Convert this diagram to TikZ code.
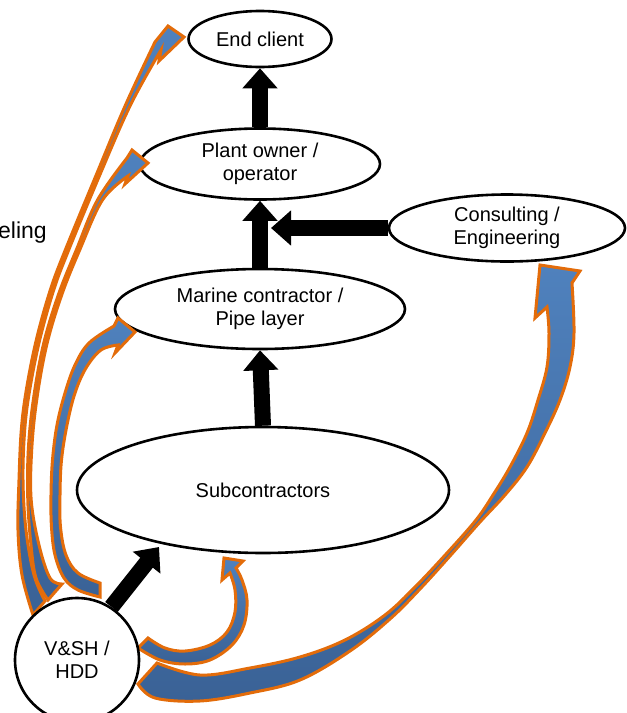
\documentclass[tikz,border=0pt]{standalone}
\usepackage{fontspec}
\setmainfont{Liberation Sans}
\usetikzlibrary{arrows.meta,shapes.geometric}
\definecolor{orng}{HTML}{E36C0A}
\definecolor{blueL}{HTML}{4F81BD}
\definecolor{blueD}{HTML}{3A6296}
\begin{document}
\begin{tikzpicture}[x=1pt,y=-1pt,
  ell/.style={ellipse, draw, line width=2.6pt, fill=white, inner sep=0pt,
    font=\fontsize{20}{23}\selectfont, align=center},
  blk/.style={line width=16pt, -{Triangle[width=34pt,length=20pt]}},
  ribbon/.style={draw=orng, line width=3pt, top color=blueL, bottom color=blueD,
    line join=miter, miter limit=6}]
\useasboundingbox (0,0) rectangle (627,713);

% nodes
\node[ell, minimum width=143pt, minimum height=56pt] (endc) at (260,39) {End client};
\node[ell, minimum width=240pt, minimum height=71pt] (plant) at (260,164) {Plant owner /\\operator};
\node[ell, minimum width=236pt, minimum height=67pt] (cons) at (507,228) {Consulting /\\Engineering};
\node[ell, minimum width=290pt, minimum height=80pt] (marine) at (260,309) {Marine contractor /\\Pipe layer};
\node[ell, minimum width=372pt, minimum height=126pt] (sub) at (263,490) {Subcontractors};
\node[anchor=base east, inner sep=0pt, font=\fontsize{23}{26}\selectfont] (mod) at (47,238) {eling};

% black block arrows
\coordinate (hjoin) at (271,228);
\coordinate (subtip) at (159,547);
\draw[blk] (plant.north) -- (endc.south);
\draw[blk] (marine.north) -- (plant.south);
\draw[blk] (cons.west) -- (hjoin);
\draw[blk] (sub.north) -- (marine.south);

% ribbon A : to End client
\path[ribbon] plot[smooth, tension=0.6] coordinates {(33,615) (22,575) (18,530) (19,480) (21.3,430) (26.3,390) (36.3,340) (50.3,290) (65.3,250) (96.2,175) (125.5,105) (155,42)}
  -- (168,26) -- (184,37) -- (159,61) -- (161,50)
  -- plot[smooth, tension=0.6] coordinates {(161,50) (130.5,105) (99.8,175) (68.7,250) (53.7,290) (39.7,340) (29.7,390) (24.7,430) (23,480) (26,530) (34,575) (45,601)}
  -- cycle;
% ribbon B : to Plant owner
\path[ribbon] plot[smooth, tension=0.6] coordinates {(48,600) (36,578) (31,545) (27.8,500) (28.3,450) (33.3,400) (43.3,345) (58.3,295) (76.3,250) (97.5,200) (127,158)}
  -- (132,150) -- (148,163) -- (125,184) -- (128,176)
  -- plot[smooth, tension=0.6] coordinates {(128,176) (102.5,200) (79.7,250) (61.7,295) (46.7,345) (36.7,400) (31.7,450) (31.2,500) (39,545) (50,578) (62,584)}
  -- cycle;
% ribbon C : to Marine contractor
\path[ribbon] plot[smooth, tension=0.6] coordinates {(100,597) (78,590) (64,578) (55,555) (51.5,527) (51,495) (52.5,460) (57,425) (65,393) (75,365) (89,343) (114,326)}
  -- (118,318) -- (135,332) -- (115,353) -- (118,345)
  -- plot[smooth, tension=0.6] coordinates {(118,345) (101,350) (86,368) (75,393) (67,425) (61.5,460) (60,495) (60.5,527) (66,555) (78,573) (100,583)}
  -- cycle;
% ribbon D : to Subcontractors
\path[ribbon] plot[smooth, tension=0.6] coordinates {(138,648) (160,660) (185,664) (210,660) (232,645) (244,625) (247,600) (242,580) (236,568)}
  -- (243,561) -- (224,558) -- (222,580) -- (230,573)
  -- plot[smooth, tension=0.6] coordinates {(230,573) (235,590) (235,612) (227,632) (210,645) (185,651) (165,648) (148,638)}
  -- cycle;
% ribbon E : to Consulting
\path[ribbon] plot[smooth, tension=0.6] coordinates {(138,684) (155,698) (200,701) (250,693) (300,680) (350,651) (390,619) (420,589) (450,556) (480,522) (505,495) (527,467) (545,433) (560,400) (570,367) (574,333) (572,283)}
  -- (580,271) -- (540,265) -- (535,318) -- (547,307)
  -- plot[smooth, tension=0.6] coordinates {(547,307) (549,333) (547,367) (538,400) (527,433) (510,467) (493,495) (476,520) (447,553) (416,586) (385,615) (345,640) (300,657) (250,668) (200,675) (157,663)}
  -- cycle;

% V&SH circle
\node[circle, draw, line width=2.6pt, fill=white, minimum size=124pt, inner sep=0pt,
  align=center, font=\fontsize{20}{23}\selectfont] (vsh) at (77,660) {V\&SH /\\HDD};
\draw[blk] (vsh.57) -- (subtip);
\end{tikzpicture}
\end{document}
